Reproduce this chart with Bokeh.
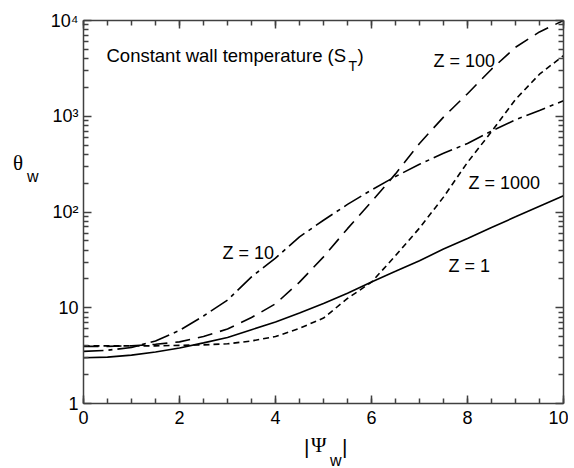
from bokeh.plotting import figure
from bokeh.models import FixedTicker, Label, LinearAxis, LogAxis, Range1d, Div
from bokeh.layouts import column, row
from bokeh.embed import file_html
from bokeh.resources import INLINE

# ---- data ----
psi = [0, 0.5, 1, 1.5, 2, 2.5, 3, 3.5, 4, 4.5, 5, 5.5, 6, 6.5, 7, 7.5, 8, 8.5, 9, 9.5, 10]
theta_z1 = [3.0, 3.05, 3.2, 3.45, 3.8, 4.3, 4.9, 5.9, 7.1, 8.8, 11.1, 14.2, 18.6, 24, 31, 41, 53, 69, 89, 115, 148]
theta_z10 = [3.5, 3.6, 3.85, 4.5, 5.8, 8.2, 12, 21, 33, 55, 82, 120, 170, 235, 315, 410, 520, 700, 920, 1150, 1450]
theta_z100 = [3.95, 3.95, 4.0, 4.15, 4.4, 5.0, 6.0, 7.9, 11, 18.5, 34, 67, 128, 250, 520, 980, 1720, 3100, 5250, 7600, 10000]
theta_z1000 = [4.0, 4.0, 4.0, 4.0, 4.05, 4.1, 4.2, 4.5, 5.0, 6.1, 7.8, 12.5, 18.5, 35, 68, 143, 330, 690, 1500, 2750, 4300]

x_ticks = [0, 2, 4, 6, 8, 10]
x_minor = [i * 0.5 for i in range(21)]
y_ticks = [1, 10, 100, 1000, 10000]
y_tick_labels = {1: "1", 10: "10", 100: "10\u00b2", 1000: "10\u00b3", 10000: "10\u2074"}
y_minor = [m * 10 ** d for d in range(4) for m in range(2, 10)]

curve_labels = [("Z = 1", 448, 265), ("Z = 10", 222, 252), ("Z = 100", 433, 60), ("Z = 1000", 468, 182)]

FONT = "Liberation Sans"
SERIF = "Liberation Serif"
AX = "#404040"

LEFT_W = 40          # width of the y-title column
PH = 430             # figure height
W = 568 - LEFT_W     # figure width
p = figure(width=W, height=PH, output_backend="svg", toolbar_location=None,
           x_range=Range1d(0, 10), y_range=Range1d(1, 10000), y_axis_type="log",
           x_axis_location=None, y_axis_location=None,
           min_border_left=83 - LEFT_W, min_border_right=5, min_border_top=20,
           min_border_bottom=PH - 403)
p.grid.visible = False
p.outline_line_color = None
p.background_fill_color = "white"
p.border_fill_color = "white"

def style(ax, labels=True):
    ax.axis_line_color = AX
    ax.axis_line_width = 1.5
    ax.major_tick_line_color = AX
    ax.minor_tick_line_color = AX
    ax.major_tick_line_width = 1.5
    ax.minor_tick_line_width = 1.5
    ax.major_tick_in = 8
    ax.major_tick_out = 0
    ax.minor_tick_in = 5
    ax.minor_tick_out = 0
    ax.major_label_text_font = FONT
    ax.major_label_text_font_size = "18px"
    ax.major_label_text_color = "black"
    if not labels:
        ax.major_label_text_font_size = "0px"
        ax.major_label_text_color = None

xt = FixedTicker(ticks=x_ticks, minor_ticks=x_minor)
yt = FixedTicker(ticks=y_ticks, minor_ticks=y_minor)

xb = LinearAxis(ticker=xt)
style(xb)
xb.major_label_standoff = 7
p.add_layout(xb, "below")
xa = LinearAxis(ticker=xt)
style(xa, labels=False)
p.add_layout(xa, "above")

yl = LogAxis(ticker=yt)
style(yl)
yl.major_label_overrides = y_tick_labels
yl.major_label_standoff = 5
p.add_layout(yl, "left")
yr = LogAxis(ticker=yt)
style(yr, labels=False)
p.add_layout(yr, "right")

lw = 1.6
p.line(psi, theta_z1, line_color="black", line_width=lw)
p.line(psi, theta_z10, line_color="black", line_width=lw, line_dash="20 5 4 5")
p.line(psi, theta_z100, line_color="black", line_width=lw, line_dash="15 8")
p.line(psi, theta_z1000, line_color="black", line_width=lw, line_dash="6 4")

# frame-relative screen coordinates helper (page px -> screen units)
FL, FB = 83, 403
def lab(text, px, py, size, font=FONT):
    p.add_layout(Label(x=px - FL, y=FB - py, x_units="screen", y_units="screen",
                       text=text, text_font=font, text_font_size=size,
                       text_color="black", text_baseline="alphabetic"))

for t, px, py in curve_labels:
    lab(t, px, py, "18px")

lab("Constant wall temperature (S", 106, 55, "18.5px")
lab("T", 348, 65, "14px")
lab(")", 357, 55, "18.5px")

def span(txt, left, top, size, font):
    return (f'<span style="position:absolute;left:{left}px;top:{top}px;'
            f"font-family:'{font}';font-size:{size}px;line-height:{size}px;"
            f'color:black;white-space:nowrap">{txt}</span>')

theta_html = ('<div style="position:relative;width:%dpx;height:%dpx">' % (LEFT_W, PH)
              + span("\u03b8", 13, 153, 21, SERIF)
              + span("w", 27, 169, 16, FONT) + "</div>")
div_theta = Div(text=theta_html, width=LEFT_W, height=PH, margin=(0, 0, 0, 0))

BH = 36
top0 = PH
psi_html = ('<div style="position:relative;width:568px;height:%dpx">' % BH
            + span("|", 304, 438 - top0 - 2, 21, FONT)
            + span("\u03a8", 311, 453 - top0 - 18, 21, SERIF)
            + span("w", 330, 467 - top0 - 14, 16, FONT)
            + span("|", 342, 438 - top0 - 2, 21, FONT) + "</div>")
div_psi = Div(text=psi_html, width=568, height=BH, margin=(0, 0, 0, 0))

layout = column(row(div_theta, p, spacing=0), div_psi, spacing=0)
open("out.html", "w").write(file_html(layout, INLINE))
